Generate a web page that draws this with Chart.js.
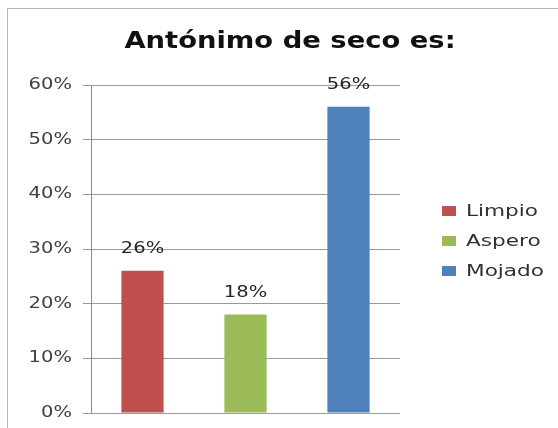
<!DOCTYPE html>
<html>
<head>
<meta charset="utf-8">
<script src="https://cdn.jsdelivr.net/npm/chart.js@4/dist/chart.umd.min.js"></script>
<style>
  html, body { margin: 0; padding: 0; background: #ffffff; }
  #wrap { width: 558px; height: 428px; }
</style>
</head>
<body>
<div id="wrap"><canvas id="c" width="558" height="428"></canvas></div>
<script>
const titleText = 'Antónimo de seco es:';
const categories = ['Limpio', 'Aspero', 'Mojado'];
const values = [26, 18, 56];
const yTicks = [0, 10, 20, 30, 40, 50, 60];
const colors = ['#C0504D', '#9BBB59', '#4F81BD'];

const datasets = categories.map((name, i) => ({
  label: name,
  data: categories.map((_, j) => (j === i ? values[i] : null)),
  backgroundColor: colors[i],
  borderWidth: 0,
  grouped: false,
  barPercentage: 0.41,
  categoryPercentage: 1.0
}));

// text drawn horizontally widened, like the reference picture
function wideText(ctx, text, x, y, align, sx) {
  ctx.save();
  ctx.translate(x, y);
  ctx.scale(sx, 1);
  ctx.textAlign = align;
  ctx.textBaseline = 'middle';
  ctx.fillText(text, 0, 0);
  ctx.restore();
}

const decor = {
  id: 'decor',
  beforeDraw(chart) {
    const ctx = chart.ctx;
    ctx.save();
    ctx.fillStyle = '#ffffff';
    ctx.fillRect(0, 0, chart.width, chart.height);
    ctx.strokeStyle = '#b8b8b8';
    ctx.lineWidth = 1;
    ctx.strokeRect(7.5, 8.5, 700, 600);
    ctx.restore();
  },
  afterDraw(chart) {
    const ctx = chart.ctx;
    ctx.save();
    // title
    ctx.fillStyle = '#111111';
    ctx.font = 'bold 23px "DejaVu Sans"';
    wideText(ctx, titleText, 290, 42, 'center', 1.19);
    // y tick labels, placed with the library's scale
    const ys = chart.scales.y;
    ctx.font = '16px "DejaVu Sans"';
    ctx.fillStyle = '#404040';
    ys.ticks.forEach(t => {
      wideText(ctx, t.value + '%', 72, ys.getPixelForValue(t.value), 'right', 1.22);
    });
    // value labels
    ctx.fillStyle = '#262626';
    chart.data.datasets.forEach((ds, di) => {
      const meta = chart.getDatasetMeta(di);
      meta.data.forEach((bar, j) => {
        const v = ds.data[j];
        if (v === null || v === undefined) return;
        wideText(ctx, v + '%', bar.x, bar.y - 22, 'center', 1.22);
      });
    });
    // legend
    chart.data.datasets.forEach((ds, di) => {
      const cy = 211 + di * 30;
      ctx.fillStyle = ds.backgroundColor;
      ctx.fillRect(442, cy - 5, 14, 10);
      ctx.fillStyle = '#303030';
      wideText(ctx, ds.label, 466, cy + 1, 'left', 1.35);
    });
    ctx.restore();
  }
};

new Chart(document.getElementById('c'), {
  type: 'bar',
  data: { labels: categories, datasets },
  options: {
    responsive: false,
    animation: false,
    devicePixelRatio: 1,
    layout: { padding: { top: 85, bottom: 15, left: 0, right: 158 } },
    plugins: {
      legend: { display: false },
      title: { display: false },
      tooltip: { enabled: false }
    },
    scales: {
      x: { display: false },
      y: {
        min: 0,
        max: 60,
        afterFit(scale) { scale.width = 91; },
        afterBuildTicks(scale) { scale.ticks = yTicks.map(v => ({ value: v })); },
        ticks: { display: false },
        grid: { color: '#9a9a9a', lineWidth: 1, tickLength: 8, drawTicks: true },
        border: { display: true, color: '#8a8a8a', width: 1 }
      }
    }
  },
  plugins: [decor]
});
</script>
</body>
</html>
